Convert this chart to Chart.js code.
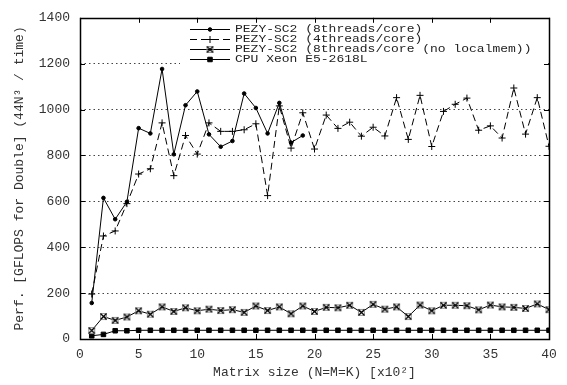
<!DOCTYPE html>
<html>
<head>
<meta charset="utf-8">
<script src="https://cdn.jsdelivr.net/npm/chart.js@4.4.0/dist/chart.umd.min.js"></script>
<style>
	html, body { margin: 0; padding: 0; background: #fff; }
	#wrap { width: 567px; height: 385px; }
</style>
</head>
<body>
<div id="wrap"><canvas id="chart-perf"></canvas></div>
<script>
// matrix size, x10^2
const sizes = [1, 2, 3, 4, 5, 6, 7, 8, 9, 10, 11, 12, 13, 14, 15, 16, 17, 18, 19, 20,
	21, 22, 23, 24, 25, 26, 27, 28, 29, 30, 31, 32, 33, 34, 35, 36, 37, 38, 39, 40];

const seriesNames = [
	'PEZY-SC2 (8threads/core)',
	'PEZY-SC2 (4threads/core)',
	'PEZY-SC2 (8threads/core (no localmem))',
	'CPU Xeon E5-2618L'
];

// only measured up to 19
const pezy8 = [157, 615, 522, 598, 919, 896, 1177, 805, 1019, 1079, 892, 838, 863, 1070, 1007, 896, 1029, 856, 887];

const pezy4 = [196, 449, 471, 590, 719, 742, 942, 712, 887, 806, 942, 905, 905, 912, 938, 625, 1016, 832, 986, 828,
	976, 918, 945, 884, 923, 885, 1052, 870, 1062, 839, 992, 1023, 1050, 910, 929, 876, 1094, 893, 1052, 840];

const pezyNoLocal = [37, 98, 81, 96, 123, 108, 140, 120, 136, 123, 130, 124, 128, 116, 144, 124, 140, 110, 144, 120,
	138, 136, 147, 116, 151, 130, 140, 98, 148, 123, 147, 147, 145, 127, 148, 140, 138, 133, 153, 128];

const cpuXeon = [14, 20, 36, 36, 38, 38, 38, 38, 38, 38, 38, 38, 38, 38, 38, 38, 38, 38, 38, 38,
	38, 38, 38, 38, 38, 38, 38, 38, 38, 38, 38, 38, 38, 38, 38, 38, 38, 38, 38, 38];

const xTicks = [0, 5, 10, 15, 20, 25, 30, 35, 40];
const yTicks = [0, 200, 400, 600, 800, 1000, 1200, 1400];

const FONT = "'Liberation Mono', 'DejaVu Sans Mono', monospace";

function toPoints(values) {
	return values.map((v, i) => ({ x: sizes[i], y: v }));
}

// gnuplot style crossed box marker
function crossedBox() {
	let c = document.createElement('canvas');
	c.width = 9; c.height = 9;
	let g = c.getContext('2d');
	g.strokeStyle = '#999';
	g.lineWidth = 1;
	g.strokeRect(1.5, 1.5, 6, 6);
	g.strokeStyle = '#000';
	g.lineWidth = 1.3;
	g.beginPath();
	g.moveTo(1.5, 1.5); g.lineTo(7.5, 7.5);
	g.moveTo(7.5, 1.5); g.lineTo(1.5, 7.5);
	g.stroke();
	return c;
}
const boxMarker = crossedBox();

// frame + inward ticks on all four sides
const framePlugin = {
	id: 'frame',
	afterDatasetsDraw(chart) {
		const { ctx, chartArea: a, scales } = chart;
		ctx.save();
		ctx.strokeStyle = '#000';
		ctx.lineWidth = 1;
		ctx.beginPath();
		xTicks.forEach((t) => {
			let px = Math.round(scales.x.getPixelForValue(t)) + 0.5;
			ctx.moveTo(px, a.bottom); ctx.lineTo(px, a.bottom - 5);
			ctx.moveTo(px, a.top); ctx.lineTo(px, a.top + 5);
		});
		yTicks.forEach((t) => {
			let py = Math.round(scales.y.getPixelForValue(t)) + 0.5;
			ctx.moveTo(a.left, py); ctx.lineTo(a.left + 5, py);
			ctx.moveTo(a.right, py); ctx.lineTo(a.right - 5, py);
		});
		ctx.stroke();
		ctx.lineWidth = 1.5;
		ctx.strokeRect(Math.round(a.left) + 0.5, Math.round(a.top) + 0.5,
			Math.round(a.right - a.left), Math.round(a.bottom - a.top));
		ctx.restore();
	}
};

// key box in the top right corner, like gnuplot
const keyPlugin = {
	id: 'key',
	afterDatasetsDraw(chart) {
		const { ctx, chartArea: a } = chart;
		const boxLeft = 180, boxTop = a.top + 6;
		ctx.save();
		ctx.fillStyle = '#fff';
		ctx.fillRect(boxLeft, boxTop, a.right - boxLeft - 2, 49);
		chart.data.datasets.forEach((ds, i) => {
			let y = Math.round(a.top + 11 + i * 10) + 0.5;
			ctx.strokeStyle = '#000';
			ctx.fillStyle = '#000';
			ctx.lineWidth = 1;
			ctx.setLineDash(ds.borderDash || []);
			ctx.beginPath();
			ctx.moveTo(190, y);
			ctx.lineTo(230, y);
			ctx.stroke();
			ctx.setLineDash([]);
			Chart.helpers.drawPoint(ctx, {
				pointStyle: ds.pointStyle,
				radius: ds.pointRadius,
				borderWidth: ds.pointBorderWidth || 1,
				rotation: 0
			}, 210, y);
			// gnuplot's courier is wide and short, squeeze it vertically
			ctx.save();
			ctx.translate(235, y);
			ctx.scale(1, 0.82);
			ctx.font = '13px ' + FONT;
			ctx.textBaseline = 'middle';
			ctx.fillStyle = '#222';
			ctx.fillText(seriesNames[i], 0, 0);
			ctx.restore();
		});
		ctx.restore();
	}
};

let perfChartCtx = document.getElementById('chart-perf');
let perfChart = new Chart(perfChartCtx, {
	type: 'line',
	data: {
		datasets: [{
			label: seriesNames[0],
			data: toPoints(pezy8),
			borderColor: '#000',
			backgroundColor: '#000',
			borderWidth: 1,
			pointStyle: 'circle',
			pointRadius: 1.8,
			pointBorderWidth: 1
		}, {
			label: seriesNames[1],
			data: toPoints(pezy4),
			borderColor: '#000',
			backgroundColor: '#000',
			borderWidth: 1,
			borderDash: [7, 4],
			pointStyle: 'cross',
			pointRadius: 3.5,
			pointBorderWidth: 1
		}, {
			label: seriesNames[2],
			data: toPoints(pezyNoLocal),
			borderColor: '#000',
			backgroundColor: '#000',
			borderWidth: 1,
			pointStyle: boxMarker,
			pointRadius: 4
		}, {
			label: seriesNames[3],
			data: toPoints(cpuXeon),
			borderColor: '#000',
			backgroundColor: '#000',
			borderWidth: 1,
			pointStyle: 'rect',
			pointRadius: 3.2,
			pointBorderWidth: 1
		}]
	},
	options: {
		responsive: true,
		maintainAspectRatio: false,
		animation: false,
		layout: { padding: { top: 12, right: 18, left: 0, bottom: 0 } },
		plugins: {
			legend: { display: false },
			tooltip: { enabled: false }
		},
		scales: {
			x: {
				type: 'linear',
				min: 0,
				max: 40,
				afterFit: (s) => { s.height = 46; },
				afterBuildTicks: (s) => { s.ticks = xTicks.map((v) => ({ value: v })); },
				grid: { display: false, drawTicks: false },
				border: { display: false },
				ticks: { padding: 8, color: '#333', font: { family: FONT, size: 13 } },
				title: {
					display: true,
					text: 'Matrix size (N=M=K) [x10²]',
					color: '#333',
					padding: { top: 0, bottom: 5 },
					font: { family: FONT, size: 13 }
				}
			},
			y: {
				min: 0,
				max: 1400,
				afterFit: (s) => { s.width = 80; },
				afterBuildTicks: (s) => { s.ticks = yTicks.map((v) => ({ value: v })); },
				grid: {
					drawTicks: false,
					color: (c) => (c.tick && (c.tick.value === 0 || c.tick.value === 1400)) ? 'rgba(0,0,0,0)' : '#444',
					lineWidth: 1
				},
				border: { display: false, dash: [1.5, 3] },
				ticks: {
					padding: 10,
					color: '#333',
					font: { family: FONT, size: 13 },
					callback: (v) => String(v)
				},
				title: {
					display: true,
					text: 'Perf. [GFLOPS for Double] (44N³ / time)',
					color: '#333',
					padding: { top: 12, bottom: 0 },
					font: { family: FONT, size: 13 }
				}
			}
		}
	},
	plugins: [keyPlugin, framePlugin]
});
</script>
</body>
</html>
